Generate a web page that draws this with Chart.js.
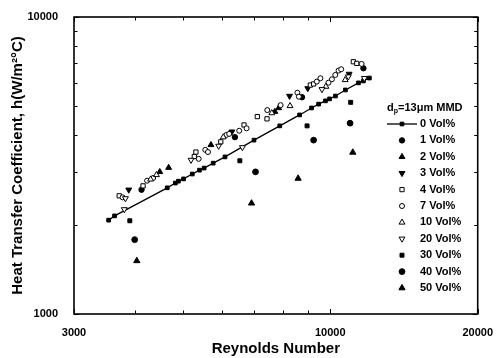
<!DOCTYPE html>
<html>
<head>
<meta charset="utf-8">
<script src="https://cdn.jsdelivr.net/npm/chart.js@4.4.1/dist/chart.umd.min.js"></script>
<style>
  html, body { margin: 0; padding: 0; background: #fff; }
  #wrap { width: 497px; height: 358px; }
</style>
</head>
<body>
<div id="wrap"><canvas id="c" width="497" height="358"></canvas></div>
<script>
// Axis ticks (log scales) and which of them carry a label
const xTicks = [3000, 4000, 5000, 6000, 7000, 8000, 9000, 10000, 20000];
const xLabels = [3000, 10000, 20000];
const yTicks = [1000, 2000, 3000, 4000, 5000, 6000, 7000, 8000, 9000, 10000];
const yLabels = [1000, 10000];

// Series: Reynolds number and heat transfer coefficient per loading
const re0 = [3530, 3630, 4650, 4830, 4900, 5020, 5230, 5410, 5530, 5770, 6100, 6990, 7890, 8660, 9160, 9470, 9780, 9970, 10250, 10740, 11420, 11690, 12020];
const h0  = [2070, 2140, 2660, 2760, 2800, 2850, 2960, 3050, 3100, 3220, 3380, 3850, 4300, 4680, 4940, 5090, 5220, 5300, 5420, 5680, 6000, 6090, 6230];

const re1 = [4120, 6390, 8760, 11690];
const h1  = [2620, 3940, 5370, 6720];

const re2 = [4490, 4680, 5710, 7710, 7850];
const h2  = [3010, 3110, 3710, 4800, 4940];

const re3 = [3880, 6300, 8260, 9000, 10930];
const h3  = [2620, 4110, 5420, 5750, 6430];

const re4 = [3710, 4150, 5280, 5320, 5980, 6670, 7100, 7430, 9110, 9250, 11150, 11330];
const h4  = [2500, 2700, 3390, 3510, 3800, 4330, 4620, 4540, 5900, 5950, 7070, 6980];

const re7 = [3770, 4230, 4350, 5390, 5560, 5630, 6140, 6220, 6520, 6750, 7440, 7920, 8570, 8630, 9390, 9550, 9920, 10080, 10240, 10400, 10530, 11590];
const h7  = [2470, 2810, 2870, 3330, 3570, 3510, 4010, 4040, 4140, 4220, 4860, 5050, 5560, 5390, 6060, 6220, 6010, 6170, 6380, 6600, 6670, 6950];

const re10 = [4300, 4420, 6050, 7600, 8280, 9800, 10730];
const h10  = [2840, 2940, 3940, 4750, 5020, 5830, 6140];

const re20 = [3800, 3820, 5200, 5920, 6620, 9620, 10890, 11740];
const h20  = [2250, 2450, 3300, 3680, 3640, 5710, 6300, 6220];

const re30 = [3900, 6540, 8970, 11010];
const h30  = [2060, 3280, 4300, 5160];

const re40 = [3990, 7040, 9250, 10980];
const h40  = [1780, 3010, 3850, 4390];

const re50 = [4030, 6910, 8600, 11120];
const h50  = [1510, 2360, 2860, 3500];

const seriesLabels = ['0 Vol%', '1 Vol%', '2 Vol%', '3 Vol%', '4 Vol%', '7 Vol%', '10 Vol%', '20 Vol%', '30 Vol%', '40 Vol%', '50 Vol%'];

const pairs = (xs, ys) => xs.map((x, i) => ({ x: x, y: ys[i] }));

const BLACK = '#000';
const WHITE = '#fff';
const FONT = '"Liberation Sans", Arial, Helvetica, sans-serif';

// Marker look per series: style, rotation, radius, filled?
const looks = [
  { style: 'rect',     rot: 0,   r: 2.6, fill: true  },
  { style: 'circle',   rot: 0,   r: 2.7, fill: true  },
  { style: 'triangle', rot: 0,   r: 3.4, fill: true  },
  { style: 'triangle', rot: 180, r: 3.4, fill: true  },
  { style: 'rect',     rot: 0,   r: 3.0, fill: false },
  { style: 'circle',   rot: 0,   r: 2.5, fill: false },
  { style: 'triangle', rot: 0,   r: 3.4, fill: false },
  { style: 'triangle', rot: 180, r: 3.4, fill: false },
  { style: 'rect',     rot: 0,   r: 2.8, fill: true  },
  { style: 'circle',   rot: 0,   r: 2.9, fill: true  },
  { style: 'triangle', rot: 0,   r: 3.6, fill: true  }
];

const seriesData = [
  pairs(re0, h0), pairs(re1, h1), pairs(re2, h2), pairs(re3, h3),
  pairs(re4, h4), pairs(re7, h7), pairs(re10, h10), pairs(re20, h20),
  pairs(re30, h30), pairs(re40, h40), pairs(re50, h50)
];

const datasets = seriesData.map((d, i) => ({
  label: seriesLabels[i],
  data: d,
  showLine: i === 0,
  borderColor: BLACK,
  borderWidth: 1.3,
  backgroundColor: looks[i].fill ? BLACK : WHITE,
  pointStyle: looks[i].style,
  pointRotation: looks[i].rot,
  pointRadius: looks[i].r,
  pointBorderWidth: 1,
  pointBorderColor: BLACK,
  pointBackgroundColor: looks[i].fill ? BLACK : WHITE,
  order: 11 - i
}));

// Small marker painter for the legend keys
function marker(ctx, look, x, y) {
  ctx.save();
  ctx.translate(x, y);
  ctx.rotate(look.rot * Math.PI / 180);
  ctx.beginPath();
  const r = look.r;
  if (look.style === 'circle') {
    ctx.arc(0, 0, r, 0, Math.PI * 2);
  } else if (look.style === 'rect') {
    const s = r * Math.SQRT1_2;
    ctx.rect(-s, -s, 2 * s, 2 * s);
  } else {
    for (let k = 0; k < 3; k++) {
      const a = -Math.PI / 2 + k * 2 * Math.PI / 3;
      const px = Math.cos(a) * r, py = Math.sin(a) * r;
      if (k === 0) ctx.moveTo(px, py); else ctx.lineTo(px, py);
    }
    ctx.closePath();
  }
  ctx.fillStyle = look.fill ? BLACK : WHITE;
  ctx.strokeStyle = BLACK;
  ctx.lineWidth = 1;
  ctx.fill();
  ctx.stroke();
  ctx.restore();
}

// Frame with inward tick marks on all four sides
const framePlugin = {
  id: 'frame',
  afterDatasetsDraw(chart) {
    const { ctx, chartArea: a, scales: { x, y } } = chart;
    ctx.save();
    ctx.strokeStyle = BLACK;
    ctx.lineWidth = 1;
    xTicks.forEach(v => {
      const px = Math.round(x.getPixelForValue(v)) + 0.5;
      const len = xLabels.includes(v) ? 5 : 3.5;
      ctx.beginPath();
      ctx.moveTo(px, a.bottom); ctx.lineTo(px, a.bottom - len);
      ctx.moveTo(px, a.top); ctx.lineTo(px, a.top + len);
      ctx.stroke();
    });
    yTicks.forEach(v => {
      const py = Math.round(y.getPixelForValue(v)) + 0.5;
      const len = yLabels.includes(v) ? 5 : 3.5;
      ctx.beginPath();
      ctx.moveTo(a.left, py); ctx.lineTo(a.left + len, py);
      ctx.moveTo(a.right, py); ctx.lineTo(a.right - len, py);
      ctx.stroke();
    });
    ctx.lineWidth = 1.6;
    ctx.strokeRect(a.left, a.top, a.right - a.left, a.bottom - a.top);
    ctx.restore();
  }
};

// Legend block inside the plot, with a subscripted heading
const legendPlugin = {
  id: 'insideLegend',
  afterDraw(chart) {
    const ctx = chart.ctx;
    const headX = 387, headY = 108, rowY0 = 124, rowStep = 16.4;
    const keyX = 402, textX = 420;
    ctx.save();
    ctx.fillStyle = BLACK;
    ctx.textBaseline = 'middle';
    ctx.textAlign = 'left';
    ctx.font = 'bold 11px ' + FONT;
    ctx.fillText('d', headX, headY);
    let cx = headX + ctx.measureText('d').width;
    ctx.font = 'bold 7px ' + FONT;
    ctx.fillText('p', cx, headY + 3);
    cx += ctx.measureText('p').width;
    ctx.font = 'bold 11px ' + FONT;
    ctx.fillText('=13\u03BCm MMD', cx, headY);

    seriesLabels.forEach((lab, i) => {
      const yy = rowY0 + i * rowStep;
      if (i === 0) {
        ctx.strokeStyle = BLACK;
        ctx.lineWidth = 1.3;
        ctx.beginPath();
        ctx.moveTo(headX, yy); ctx.lineTo(textX - 3, yy);
        ctx.stroke();
      }
      marker(ctx, looks[i], keyX, yy);
      ctx.fillStyle = BLACK;
      ctx.font = 'bold 11px ' + FONT;
      ctx.fillText(lab, textX, yy);
    });
    ctx.restore();
  }
};

new Chart(document.getElementById('c'), {
  type: 'scatter',
  data: { datasets: datasets },
  options: {
    responsive: false,
    animation: false,
    devicePixelRatio: 1,
    layout: { padding: { top: 17, right: 17, bottom: 0, left: 0 } },
    plugins: { legend: { display: false }, tooltip: { enabled: false } },
    elements: { line: { tension: 0 } },
    scales: {
      x: {
        type: 'logarithmic',
        min: 3000, max: 20000,
        afterBuildTicks: s => { s.ticks = xTicks.map(v => ({ value: v })); },
        afterFit: s => { s.height = 44; },
        grid: { display: false },
        border: { display: false },
        ticks: {
          autoSkip: false, maxRotation: 0, padding: 4,
          color: BLACK,
          font: { family: FONT, size: 11, weight: 'bold' },
          callback: v => xLabels.includes(v) ? String(v) : ''
        },
        title: {
          display: true, text: 'Reynolds Number', color: BLACK,
          font: { family: FONT, size: 15, weight: 'bold' },
          padding: { top: 0, bottom: 0 }
        }
      },
      y: {
        type: 'logarithmic',
        min: 1000, max: 10000,
        afterBuildTicks: s => { s.ticks = yTicks.map(v => ({ value: v })); },
        afterFit: s => { s.width = 74; },
        grid: { display: false },
        border: { display: false },
        ticks: {
          autoSkip: false, padding: 8,
          color: BLACK,
          font: { family: FONT, size: 11, weight: 'bold' },
          callback: v => yLabels.includes(v) ? String(v) : ''
        },
        title: {
          display: true, text: 'Heat Transfer Coefficient, h(W/m\u00B2\u00B0C)', color: BLACK,
          font: { family: FONT, size: 15, weight: 'bold' },
          padding: { top: 9, bottom: 0 }
        }
      }
    }
  },
  plugins: [framePlugin, legendPlugin]
});
</script>
</body>
</html>
